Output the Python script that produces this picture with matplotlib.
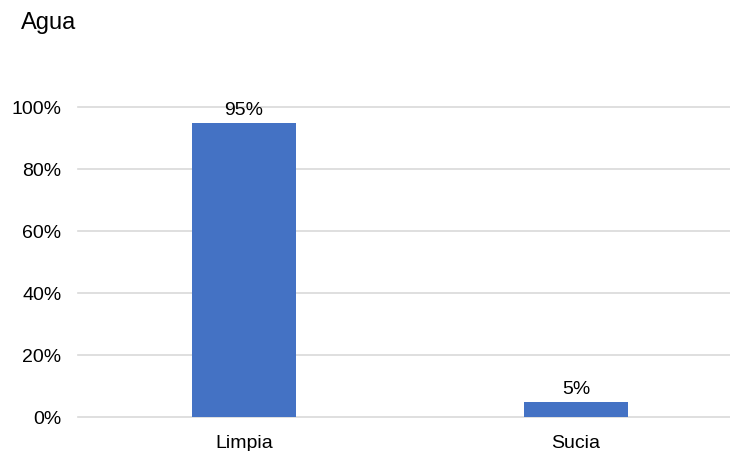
import matplotlib
matplotlib.use('Agg')
import matplotlib.pyplot as plt
from matplotlib.ticker import PercentFormatter

plt.rcParams['font.family'] = ['Liberation Sans', 'DejaVu Sans']

categories = ['Limpia', 'Sucia']
values = [0.95, 0.05]
labels = ['95%', '5%']
yticks = [0, 0.2, 0.4, 0.6, 0.8, 1.0]

W, H = 730, 452
fig = plt.figure(figsize=(W / 100, H / 100), dpi=100)

# axes placed in pixel coords (right edge runs past the figure, as in the original)
left, right, top, bottom = 78, 742, 108, 418
ax = fig.add_axes([left / W, 1 - bottom / H, (right - left) / W, (bottom - top) / H])

x = range(len(categories))
bars = ax.bar(x, values, width=0.313, color='#4472C4', zorder=3)

for b, lab in zip(bars, labels):
    ax.text(b.get_x() + b.get_width() / 2, b.get_height() + 0.015, lab,
            ha='center', va='bottom', fontsize=14, color='#000000', clip_on=False)

ax.set_xlim(-0.5, 1.5)
ax.set_ylim(0, 1.0)
ax.set_yticks(yticks)
ax.yaxis.set_major_formatter(PercentFormatter(1.0, decimals=0))
ax.set_xticks(list(x))
ax.set_xticklabels(categories)

ax.grid(axis='y', color='#D9D9D9', lw=1.2, zorder=0)
for gl in ax.get_ygridlines():
    gl.set_clip_on(False)
for s in ax.spines.values():
    s.set_visible(False)
ax.tick_params(axis='both', length=0, labelsize=14, colors='#000000')
ax.tick_params(axis='y', pad=12)
ax.tick_params(axis='x', pad=12)

fig.text(21 / W, 1 - 23 / H, 'Agua', ha='left', va='center', fontsize=17)

plt.savefig('out.png', dpi=100)
